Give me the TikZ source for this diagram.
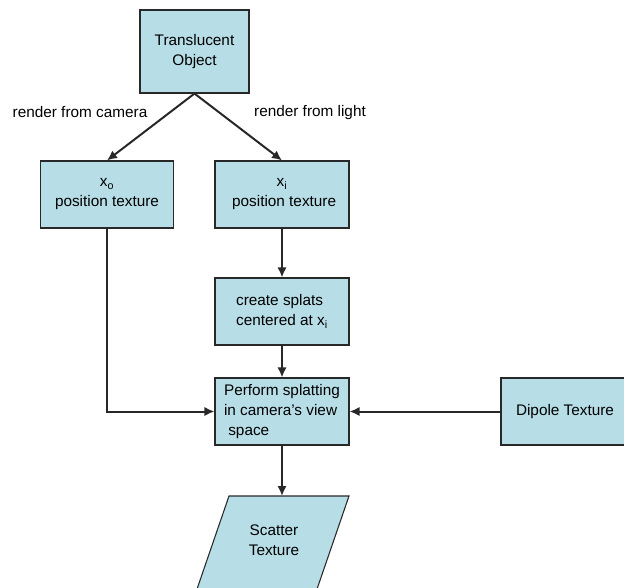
\documentclass[tikz,border=0pt]{standalone}
\usepackage{fontspec}
\setmainfont{Liberation Sans}
\usepackage{tikz}
\usetikzlibrary{arrows.meta}

\definecolor{boxfill}{RGB}{183,221,231}
\definecolor{linegray}{RGB}{40,40,40}

\begin{document}
\begin{tikzpicture}[x=0.75pt,y=0.75pt,yscale=-1,xscale=1,
  stage/.style={draw=linegray, line width=0.8pt, fill=boxfill, rectangle, inner sep=0.75pt, font=\fontsize{11.5}{15}\selectfont},
  flow/.style={draw=linegray, line width=1.5pt, -{Latex[length=7.5pt,width=7pt]}},
  tag/.style={inner sep=0.75pt, font=\fontsize{11.5}{15}\selectfont}]
\useasboundingbox (0,0) rectangle (624,587);
\clip (0,0) rectangle (624,587);

%Shape: Rectangle
\node [stage, minimum width=109*0.75pt, minimum height=83*0.75pt, align=center] (object) at (194.5,51.5) {Translucent\\Object};
%Shape: Rectangle
\node [stage, minimum width=133*0.75pt, minimum height=67*0.75pt, align=center] (camtex) at (107,194.5) {x\textsubscript{o}\\position texture};
%Shape: Rectangle
\node [stage, minimum width=134*0.75pt, minimum height=67*0.75pt, align=center] (lighttex) at (282,194.5) {x\textsubscript{i}\\\ position texture};
%Shape: Rectangle
\node [stage, minimum width=134*0.75pt, minimum height=67*0.75pt, align=left] (splats) at (282,311.5) {create splats\\centered at x\textsubscript{i}};
%Shape: Rectangle
\node [stage, minimum width=134*0.75pt, minimum height=67*0.75pt, align=left] (splatting) at (282,411.5) {Perform splatting\\in camera's view\\\ space};
%Shape: Rectangle
\node [stage, minimum width=128*0.75pt, minimum height=67*0.75pt] (dipole) at (565,411.5) {Dipole Texture};

%Shape: Parallelogram
\draw [draw=linegray, line width=0.8pt, fill=boxfill] (229,496) -- (349,496) -- (316,592) -- (196,592) -- cycle;
\coordinate (scattertop) at (282,496);
\node [tag, align=center] (scatter) at (274,540) {Scatter\\Texture};

% Text Node
\node [tag] (camlabel) at (80,112) {render from camera};
% Text Node
\node [tag] (lightlabel) at (310,113) {render from light};

%Straight Lines
\draw [flow] (object.south) -- (camtex.north);
\draw [flow] (object.south) -- (lighttex.north);
\draw [flow] (lighttex) -- (splats);
\draw [flow] (splats) -- (splatting);
\draw [flow] (camtex.south) |- (splatting.west);
\draw [flow] (dipole) -- (splatting);
\draw [flow] (splatting) -- (scattertop);

\end{tikzpicture}
\end{document}
